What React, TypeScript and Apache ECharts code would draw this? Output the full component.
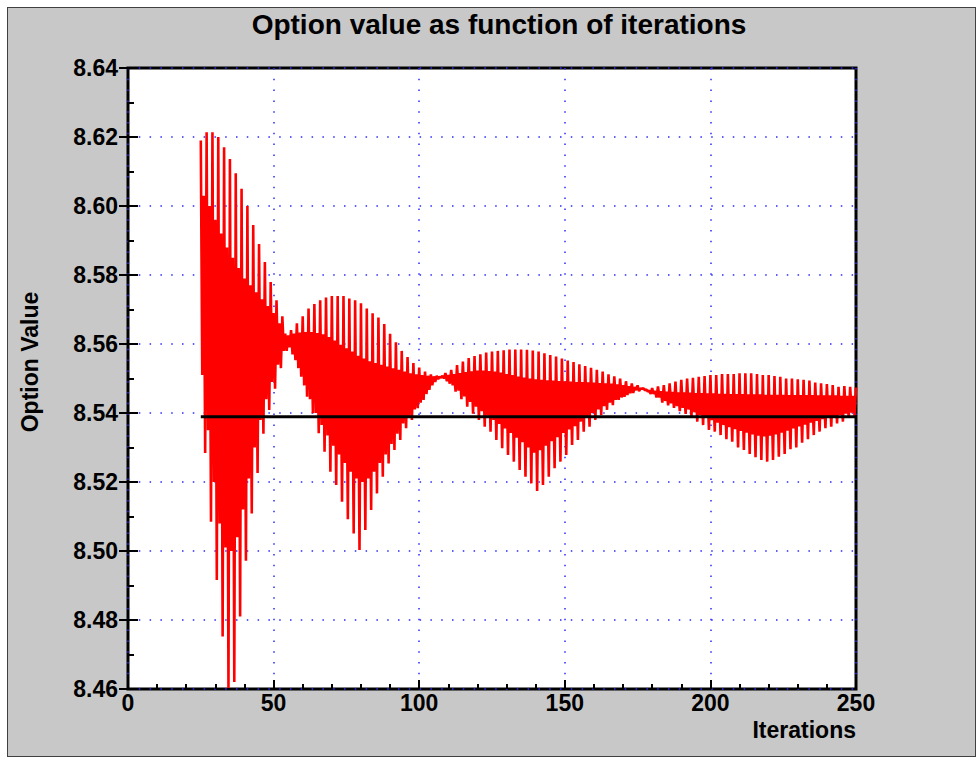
import React, { useEffect, useRef } from "react";
import * as echarts from "echarts";

const chartTitle = "Option value as function of iterations";
const xAxisTitle = "Iterations";
const yAxisTitle = "Option Value";

const firstIteration = 25;

// values read at odd iteration counts 25, 27, ..., 249
const oddIterationValues = [
  8.619, 8.6214, 8.6214, 8.62, 8.617, 8.6136, 8.6095, 8.605, 8.6, 8.5945,
  8.589, 8.5838, 8.578, 8.5727, 8.568, 8.5625, 8.563, 8.5633, 8.5635, 8.5635,
  8.5632, 8.5628, 8.562, 8.561, 8.5598, 8.5588, 8.5578, 8.5566, 8.5558, 8.555,
  8.5545, 8.554, 8.5535, 8.553, 8.5525, 8.552, 8.5515, 8.5512, 8.551, 8.5508,
  8.5506, 8.5505, 8.5516, 8.5525, 8.5539, 8.5549, 8.5559, 8.5565, 8.557, 8.5575,
  8.5578, 8.558, 8.5582, 8.5584, 8.5584, 8.5584, 8.5583, 8.5581, 8.5578, 8.5573,
  8.5568, 8.5564, 8.5558, 8.5552, 8.5548, 8.5541, 8.5536, 8.5531, 8.5525, 8.552,
  8.5512, 8.5506, 8.55, 8.5492, 8.5486, 8.548, 8.5472, 8.5465, 8.5464, 8.5463,
  8.5462, 8.5461, 8.546, 8.546, 8.5459, 8.5458, 8.5458, 8.5457, 8.5457, 8.5456,
  8.5456, 8.5455, 8.5455, 8.5455, 8.5454, 8.5454, 8.5454, 8.5453, 8.5453, 8.5453,
  8.5453, 8.5452, 8.5452, 8.5452, 8.5452, 8.5452, 8.5451, 8.5451, 8.5451, 8.5451,
  8.545, 8.545, 8.545,
];

// values read at half steps 25.5, 27.5, ..., 249.5
const afterOddHalfStepValues = [
  8.551, 8.535, 8.52, 8.508, 8.501, 8.5, 8.504, 8.512, 8.521, 8.53,
  8.538, 8.544, 8.549, 8.554, 8.558, 8.559, 8.5553, 8.5505, 8.5447, 8.5399,
  8.5341, 8.5288, 8.523, 8.5191, 8.5143, 8.5092, 8.5051, 8.5003, 8.5061, 8.5119,
  8.5167, 8.5215, 8.5254, 8.5293, 8.5322, 8.5356, 8.538, 8.5414, 8.5438, 8.5467,
  8.549, 8.5502, 8.5492, 8.548, 8.5465, 8.5448, 8.5432, 8.5418, 8.5405, 8.5392,
  8.538, 8.5368, 8.5355, 8.5342, 8.5328, 8.5315, 8.53, 8.5285, 8.5292, 8.5305,
  8.5318, 8.533, 8.5342, 8.5352, 8.5362, 8.5375, 8.539, 8.54, 8.541, 8.542,
  8.543, 8.5438, 8.5445, 8.5452, 8.5458, 8.5463, 8.5466, 8.5455, 8.5445, 8.543,
  8.5422, 8.5415, 8.5405, 8.5397, 8.539, 8.5375, 8.5365, 8.5351, 8.5346, 8.5336,
  8.5324, 8.5317, 8.53, 8.5293, 8.5281, 8.5272, 8.5264, 8.5259, 8.5264, 8.5273,
  8.5281, 8.5295, 8.53, 8.5314, 8.5324, 8.5336, 8.5346, 8.5356, 8.536, 8.537,
  8.5375, 8.5386, 8.5392,
];

// values read at even iteration counts 26, 28, ..., 250
const evenIterationValues = [
  8.603, 8.6, 8.596, 8.592, 8.588, 8.585, 8.582, 8.579, 8.577, 8.575,
  8.573, 8.571, 8.569, 8.566, 8.563, 8.564, 8.566, 8.568, 8.5703, 8.5716,
  8.5727, 8.5735, 8.5739, 8.5739, 8.5739, 8.5732, 8.5727, 8.5718, 8.5703, 8.5689,
  8.5677, 8.5658, 8.563, 8.5605, 8.558, 8.5562, 8.5545, 8.5532, 8.552, 8.5512,
  8.5508, 8.5508, 8.551, 8.5513, 8.5516, 8.5519, 8.5521, 8.5523, 8.5523, 8.5522,
  8.552, 8.5517, 8.5513, 8.551, 8.5506, 8.5503, 8.55, 8.5498, 8.5496, 8.5495,
  8.5494, 8.5493, 8.5492, 8.5491, 8.549, 8.549, 8.5489, 8.5488, 8.5487, 8.5486,
  8.5485, 8.5483, 8.5481, 8.5478, 8.5475, 8.5471, 8.5468, 8.5472, 8.5477, 8.5481,
  8.5486, 8.5491, 8.5496, 8.55, 8.5502, 8.5505, 8.5507, 8.551, 8.551, 8.5513,
  8.5513, 8.5513, 8.5515, 8.5515, 8.5515, 8.5513, 8.551, 8.551, 8.5507, 8.5505,
  8.55, 8.55, 8.5498, 8.5496, 8.5494, 8.5488, 8.5486, 8.5484, 8.5481, 8.5476,
  8.5478, 8.5476, 8.5474,
];

// values read at half steps 26.5, 28.5, ..., 248.5
const afterEvenHalfStepValues = [
  8.5284, 8.5085, 8.4916, 8.4752, 8.4603, 8.462, 8.481, 8.4972, 8.5109, 8.5226,
  8.534, 8.5409, 8.547, 8.553, 8.558, 8.557, 8.553, 8.548, 8.544, 8.54,
  8.5365, 8.5335, 8.5305, 8.528, 8.5255, 8.523, 8.521, 8.52, 8.521, 8.523,
  8.5255, 8.528, 8.531, 8.534, 8.537, 8.539, 8.541, 8.543, 8.5455, 8.548,
  8.5498, 8.55, 8.5485, 8.5462, 8.544, 8.5418, 8.5398, 8.538, 8.536, 8.5346,
  8.5322, 8.5298, 8.5278, 8.5259, 8.5235, 8.5215, 8.5196, 8.5174, 8.5191, 8.5215,
  8.524, 8.5259, 8.5278, 8.5307, 8.5322, 8.5346, 8.536, 8.538, 8.5394, 8.5409,
  8.5423, 8.5438, 8.5447, 8.5457, 8.5466, 8.547, 8.5462, 8.5455, 8.5445, 8.5435,
  8.5428, 8.542, 8.5415, 8.541, 8.5402, 8.5394, 8.5386, 8.5379, 8.5372, 8.5365,
  8.5359, 8.5353, 8.5348, 8.5343, 8.5338, 8.5334, 8.5332, 8.5334, 8.5338, 8.5343,
  8.5349, 8.5355, 8.5361, 8.5366, 8.5372, 8.5377, 8.5382, 8.5386, 8.539, 8.5394,
  8.5398, 8.5401,
];

// analytic (Black-Scholes) reference value and the iteration span it is drawn over
const referenceValue = 8.5389;
const referenceIterations = [25, 250];

const xMin = 0;
const xMax = 250;
const xStep = 50;
const yMin = 8.46;
const yMax = 8.64;
const yStep = 0.02;

const FONT = '"Liberation Sans", Arial, Helvetica, sans-serif';

export default function App() {
  const ref = useRef<HTMLDivElement>(null);

  useEffect(() => {
    if (!ref.current) return;
    const chart = echarts.init(ref.current, undefined, { renderer: "svg" });

    const optionPoints: [number, number][] = [];
    for (let i = 0; i < oddIterationValues.length; i++) {
      const n = firstIteration + 2 * i;
      optionPoints.push([n, oddIterationValues[i]]);
      if (i < afterOddHalfStepValues.length) optionPoints.push([n + 0.5, afterOddHalfStepValues[i]]);
      if (i < evenIterationValues.length) optionPoints.push([n + 1, evenIterationValues[i]]);
      if (i < afterEvenHalfStepValues.length) optionPoints.push([n + 1.5, afterEvenHalfStepValues[i]]);
    }
    const referencePoints = referenceIterations.map((n) => [n, referenceValue]);

    const gridLine = {
      show: true,
      lineStyle: { color: "#2a2aff", width: 1.5, type: [1.5, 9.3] as any },
    };

    chart.setOption({
      animation: false,
      backgroundColor: "transparent",
      graphic: [
        {
          type: "text",
          x: 499,
          y: 24,
          style: {
            text: chartTitle,
            fill: "#000",
            font: `bold 28px ${FONT}`,
            align: "center",
            verticalAlign: "middle",
            textAlign: "center",
            textVerticalAlign: "middle",
          },
        },
        {
          type: "text",
          x: 856,
          y: 730,
          style: {
            text: xAxisTitle,
            fill: "#000",
            font: `bold 23px ${FONT}`,
            align: "right",
            verticalAlign: "middle",
            textAlign: "right",
            textVerticalAlign: "middle",
          },
        },
        {
          type: "text",
          x: 30,
          y: 362,
          rotation: Math.PI / 2,
          style: {
            text: yAxisTitle,
            fill: "#000",
            font: `bold 23px ${FONT}`,
            align: "center",
            verticalAlign: "middle",
            textAlign: "center",
            textVerticalAlign: "middle",
          },
        },
      ],
      grid: {
        left: 128,
        top: 68,
        width: 728,
        height: 621,
        show: true,
        backgroundColor: "#ffffff",
        borderColor: "#000",
        borderWidth: 3,
      },
      xAxis: {
        type: "value",
        min: xMin,
        max: xMax,
        interval: xStep,
        axisLine: { show: false },
        axisTick: { show: true, inside: true, length: 9, lineStyle: { color: "#000", width: 2 } },
        minorTick: { show: true, splitNumber: 5, length: 5, lineStyle: { color: "#000", width: 2 } },
        splitLine: gridLine,
        axisLabel: {
          color: "#000",
          fontFamily: FONT,
          fontWeight: "bold",
          fontSize: 23,
          margin: 2,
        },
      },
      yAxis: [
        {
          type: "value",
          min: yMin,
          max: yMax,
          interval: yStep,
          position: "left",
          axisLine: { show: false },
          axisTick: { show: true, inside: true, length: 10, lineStyle: { color: "#000", width: 2 } },
          minorTick: { show: true, splitNumber: 2, length: 6, lineStyle: { color: "#000", width: 2 } },
          splitLine: gridLine,
          axisLabel: {
            color: "#000",
            fontFamily: FONT,
            fontWeight: "bold",
            fontSize: 23,
            margin: 10,
            formatter: (v: number) => v.toFixed(2),
          },
        },
        {
          type: "value",
          min: yMin,
          max: yMax,
          interval: yStep,
          position: "left",
          axisLine: { show: false },
          axisTick: { show: true, inside: false, length: 9, lineStyle: { color: "#000", width: 2 } },
          axisLabel: { show: false },
          splitLine: { show: false },
        },
      ],
      series: [
        {
          type: "line",
          data: optionPoints,
          symbol: "none",
          showSymbol: false,
          silent: true,
          lineStyle: { color: "#ff0000", width: 2.6 },
          z: 3,
        },
        {
          type: "line",
          data: referencePoints,
          symbol: "none",
          showSymbol: false,
          silent: true,
          lineStyle: { color: "#000000", width: 3 },
          z: 4,
        },
      ],
    });

    return () => chart.dispose();
  }, []);

  return (
    <div
      style={{
        position: "fixed",
        left: 0,
        top: 0,
        width: 977,
        height: 758,
        background: "#ffffff",
      }}
    >
      <div
        style={{
          position: "absolute",
          left: 7,
          top: 7,
          width: 969,
          height: 750,
          boxSizing: "border-box",
          background: "#c8c8c8",
          border: "1px solid #404040",
        }}
      />
      <div
        ref={ref}
        style={{ position: "absolute", left: 0, top: 0, width: 977, height: 758 }}
      />
    </div>
  );
}
